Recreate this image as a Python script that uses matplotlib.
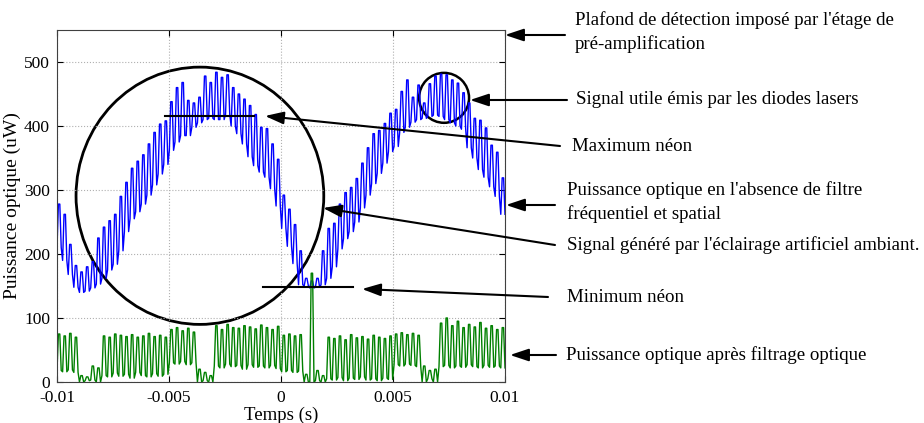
import numpy as np
import matplotlib.pyplot as plt
from matplotlib.patches import Ellipse

plt.rcParams['font.family'] = ['Liberation Serif', 'DejaVu Serif']
plt.rcParams['font.size'] = 12.5

# One low/high pair per laser pulse (uW)
blue_low = [210, 190, 168, 148, 140, 142, 147, 153, 162, 175,
            184, 205, 235, 255, 266, 278, 292, 308, 325, 340,
            362, 375, 385, 385, 398, 405, 410, 412, 410, 410,
            418, 400, 388, 372, 352, 338, 328, 320, 302, 275,
            240, 212, 185, 152, 150, 147, 148, 152, 162, 180,
            208, 224, 235, 250, 272, 292, 310, 326, 342, 360,
            368, 390, 398, 406, 410, 412, 415, 417, 415, 410,
            405, 400, 395, 366, 350, 332, 320, 305, 290, 262]
blue_high = [278, 262, 215, 182, 172, 180, 188, 225, 242, 252,
             262, 290, 312, 334, 345, 355, 372, 390, 403, 408,
             438, 460, 468, 440, 436, 445, 478, 468, 484, 476,
             480, 460, 450, 442, 432, 418, 398, 396, 372, 348,
             292, 270, 246, 205, 162, 158, 162, 205, 240, 248,
             278, 296, 304, 318, 342, 366, 388, 393, 404, 420,
             426, 454, 472, 445, 464, 436, 466, 478, 481, 480,
             472, 467, 452, 436, 412, 409, 397, 370, 359, 319]

green_low = [18, 16, 19, 15, 0, 2, 3, 0, 10, 8,
             14, 9, 12, 6, 15, 10, 8, 13, 9, 12,
             30, 28, 32, 27, 30, 0, 2, 0, 25, 22,
             28, 24, 26, 20, 27, 23, 25, 22, 26, 21,
             16, 18, 15, 17, 0, 0, 2, 0, 5, 3,
             7, 2, 6, 4, 8, 3, 5, 2, 6, 4,
             27, 25, 28, 26, 24, 0, 5, 0, 24, 26,
             22, 25, 23, 27, 24, 22, 26, 23, 25, 22]
green_high = [75, 72, 76, 70, 10, 8, 25, 22, 72, 70,
              75, 73, 71, 74, 70, 72, 76, 71, 73, 70,
              82, 85, 80, 84, 78, 20, 15, 10, 88, 82,
              90, 85, 84, 88, 86, 83, 89, 85, 82, 87,
              73, 75, 72, 74, 12, 170, 18, 10, 70, 68,
              72, 66, 74, 69, 71, 67, 73, 70, 68, 72,
              75, 77, 74, 76, 73, 25, 18, 20, 92, 100,
              88, 95, 85, 90, 86, 93, 84, 88, 82, 85]

x_ticks = [-0.01, -0.005, 0, 0.005, 0.01]
x_tick_labels = ['-0.01', '-0.005', '0', '0.005', '0.01']
y_ticks = [0, 100, 200, 300, 400, 500]

max_neon = 415
max_neon_span = [-0.0052, -0.0012]
min_neon = 148
min_neon_span = [-0.0008, 0.0032]


def pulses(lo, hi):
    # square-ish pulse per pair: low, high, high, low
    vals = []
    for a, b in zip(lo, hi):
        vals += [a, b, b, a]
    return np.array(vals)


blue = pulses(blue_low, blue_high)
green = pulses(green_low, green_high)
t_blue = np.linspace(-0.01, 0.01, len(blue))
t_green = np.linspace(-0.01, 0.01, len(green))

W, H = 924, 423
fig = plt.figure(figsize=(W / 100, H / 100), dpi=100)
ax = fig.add_axes([57 / W, 1 - 382 / H, (505 - 57) / W, (382 - 30) / H])

ax.plot(t_blue, blue, color='#0000ff', lw=1)
ax.plot(t_green, green, color='#008000', lw=1)

ax.plot(max_neon_span, [max_neon, max_neon], color='black', lw=1.5)
ax.plot(min_neon_span, [min_neon, min_neon], color='black', lw=1.5)

# circles around the neon signal and the laser pulses
ax.add_patch(Ellipse((-0.00362, 291), 0.01106, 402, fill=False, lw=2, color='black'))
ax.add_patch(Ellipse((0.00728, 444), 0.00223, 78, fill=False, lw=1.8, color='black'))

ax.set_xlim(-0.01, 0.01)
ax.set_ylim(0, 550)
ax.set_xticks(x_ticks)
ax.set_xticklabels(x_tick_labels)
ax.set_yticks(y_ticks)
ax.grid(True, linestyle=':', color='#b0b0b0', lw=0.8)
ax.tick_params(direction='in', length=4, top=True, right=True)
ax.tick_params(axis='x', pad=6)
ax.tick_params(axis='y', pad=5)
for s in ax.spines.values():
    s.set_color('#404040')
ax.set_xlabel('Temps (s)', labelpad=0, fontsize=13.5)
ax.set_ylabel('Puissance optique (uW)', labelpad=2, fontsize=14)


def px(x, y):
    return (x, H - y)


notes = [
    ((565, 35), (505, 35), (575, 32.5), "Plafond de détection imposé par l'étage de\npré-amplification"),
    ((567, 100), (470, 100), (576, 100), "Signal utile émis par les diodes lasers"),
    ((560, 146), (265, 116), (572, 146), "Maximum néon"),
    ((555, 205), (506, 205), (567, 202), "Puissance optique en l'absence de filtre\nfréquentiel et spatial"),
    ((555, 245), (323, 208), (567, 245), "Signal généré par l'éclairage artificiel ambiant."),
    ((548, 297), (362, 289), (567, 297), "Minimum néon"),
    ((556, 355), (510, 355), (566, 355), "Puissance optique après filtrage optique"),
]
for start, end, tpos, label in notes:
    fig.add_artist(plt.Annotation('', xy=px(*end), xytext=px(*start),
                                  xycoords='figure pixels', textcoords='figure pixels',
                                  arrowprops=dict(arrowstyle='-|>,head_length=0.9,head_width=0.3',
                                                  color='black', lw=1.5, shrinkA=0, shrinkB=0)))
    fig.text(tpos[0] / W, 1 - tpos[1] / H, label, ha='left', va='center',
             linespacing=1.45, fontsize=13.6)

fig.savefig('out.png', dpi=100)
